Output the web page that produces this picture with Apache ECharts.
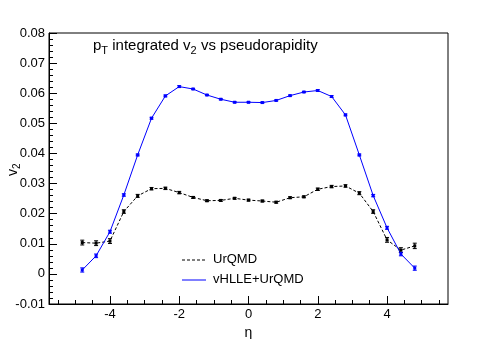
<!DOCTYPE html>
<html>
<head>
<meta charset="utf-8">
<script src="https://cdn.jsdelivr.net/npm/echarts@6/dist/echarts.min.js"></script>
<style>
html,body{margin:0;padding:0;background:#fff;}
#chart{width:498px;height:339px;}
</style>
</head>
<body>
<div id="chart"></div>
<script>
// eta bins
var eta = [-4.8,-4.4,-4.0,-3.6,-3.2,-2.8,-2.4,-2.0,-1.6,-1.2,-0.8,-0.4,0,
           0.4,0.8,1.2,1.6,2.0,2.4,2.8,3.2,3.6,4.0,4.4,4.8];
// UrQMD (black dashed)
var urqmd = [0.0104,0.0102,0.0109,0.0207,0.0259,0.0283,0.0284,0.0270,0.0254,0.0243,0.0244,0.0251,0.0245,
             0.0242,0.0238,0.0253,0.0256,0.0281,0.0290,0.0292,0.0268,0.0207,0.0113,0.0079,0.0093];
var urqmdErr = [0.0008,0.0008,0.0008,0.0006,0.0005,0.0004,0.0004,0.0004,0.0003,0.0003,0.0003,0.0003,0.0003,
                0.0003,0.0003,0.0003,0.0003,0.0004,0.0004,0.0004,0.0005,0.0006,0.0008,0.0008,0.0009];
// vHLLE+UrQMD (blue)
var hydro = [0.0013,0.0060,0.0140,0.0262,0.0395,0.0517,0.0591,0.0622,0.0614,0.0594,0.0580,0.0570,0.0570,
             0.0569,0.0576,0.0592,0.0604,0.0609,0.0589,0.0528,0.0395,0.0260,0.0153,0.0066,0.0019];
var hydroErr = [0.0007,0.0006,0.0005,0.0004,0.0003,0.0003,0.0003,0.0003,0.0002,0.0002,0.0002,0.0002,0.0002,
                0.0002,0.0002,0.0002,0.0002,0.0003,0.0003,0.0003,0.0003,0.0004,0.0005,0.0006,0.0007];
var xTicks = [-4,-2,0,2,4];
var xMinor = [-5.5,-5,-4.5,-3.5,-3,-2.5,-1.5,-1,-0.5,0.5,1,1.5,2.5,3,3.5,4.5,5,5.5];

var FONT = "Liberation Sans";

function pts(v){ return eta.map(function(x,i){ return [x, v[i]]; }); }
function errs(v,e){ return eta.map(function(x,i){ return [x, v[i]-e[i], v[i]+e[i]]; }); }

function errBar(color){
  return function(params, api){
    var a = api.coord([api.value(0), api.value(1)]);
    var b = api.coord([api.value(0), api.value(2)]);
    var st = {stroke: color, lineWidth: 1};
    return {type:'group', children:[
      {type:'line', shape:{x1:a[0],y1:a[1],x2:b[0],y2:b[1]}, style:st},
      {type:'line', shape:{x1:a[0]-2,y1:a[1],x2:a[0]+2,y2:a[1]}, style:st},
      {type:'line', shape:{x1:b[0]-2,y1:b[1],x2:b[0]+2,y2:b[1]}, style:st}
    ]};
  };
}

var chart = echarts.init(document.getElementById('chart'), null, {renderer:'canvas'});
chart.setOption({
  animation: false,
  backgroundColor: '#fff',
  textStyle: {fontFamily: FONT},
  grid: {left:49, right:50, top:33, bottom:35, outerBoundsMode:'none', containLabel:false,
         show:true, borderColor:'#000', borderWidth:1, backgroundColor:'transparent'},
  xAxis: [{
    type:'value', min:-5.76, max:5.76,
    name:'η', nameLocation:'middle', nameGap:19,
    nameTextStyle:{fontFamily:FONT, fontSize:14, color:'#000'},
    axisLine:{onZero:false, lineStyle:{color:'#000'}},
    axisTick:{inside:true, length:8, customValues:xTicks, lineStyle:{color:'#000'}},
    axisLabel:{customValues:xTicks, fontFamily:FONT, fontSize:13, color:'#000', margin:4},
    splitLine:{show:false}
  },{
    type:'value', min:-5.76, max:5.76, gridIndex:0, position:'bottom',
    axisLine:{show:false, onZero:false},
    axisTick:{inside:true, length:4, customValues:xMinor, lineStyle:{color:'#000'}},
    axisLabel:{show:false},
    splitLine:{show:false}
  }],
  yAxis: {
    type:'value', min:-0.01, max:0.08, interval:0.01,
    axisLine:{onZero:false, lineStyle:{color:'#000'}},
    axisTick:{inside:true, length:8, lineStyle:{color:'#000'}},
    minorTick:{show:true, splitNumber:5, length:4, lineStyle:{color:'#000'}},
    axisLabel:{fontFamily:FONT, fontSize:13, color:'#000', margin:4,
      formatter:function(v){ var r = Math.round(v*100)/100; return r===0 ? '0' : r.toFixed(2); }},
    splitLine:{show:false}
  },
  graphic: [
    {type:'text', left:93, top:38, style:{
      text:'{n|p}{s|T}{n| integrated v}{s|2}{n| vs pseudorapidity}',
      rich:{n:{fontFamily:FONT, fontSize:15, fill:'#000'}, s:{fontFamily:FONT, fontSize:11, fill:'#000', padding:[10,0,0,0]}}
    }},
    {type:'text', x:4, y:176, rotation:Math.PI/2, style:{
      text:'{v|v}{s|2}',
      rich:{v:{fontFamily:FONT, fontSize:14, fill:'#000'}, s:{fontFamily:FONT, fontSize:10, fill:'#000', padding:[8,0,0,0]}}
    }},
    {type:'line', shape:{x1:182,y1:260,x2:206,y2:260}, style:{stroke:'#000', lineWidth:1, lineDash:[3,2]}},
    {type:'text', left:213, top:253, style:{text:'UrQMD', fontFamily:FONT, fontSize:13, fill:'#000'}},
    {type:'line', shape:{x1:182,y1:280,x2:206,y2:280}, style:{stroke:'#0000ff', lineWidth:1}},
    {type:'text', left:213, top:273, style:{text:'vHLLE+UrQMD', fontFamily:FONT, fontSize:13, fill:'#000'}}
  ],
  series: [
    {type:'line', name:'UrQMD', data:pts(urqmd), symbol:'rect', symbolSize:3,
     lineStyle:{color:'#000', width:1, type:[3,2]}, itemStyle:{color:'#000'}},
    {type:'custom', data:errs(urqmd, urqmdErr), renderItem:errBar('#000'), encode:{x:0, y:[1,2]}},
    {type:'line', name:'vHLLE+UrQMD', data:pts(hydro), symbol:'rect', symbolSize:3,
     lineStyle:{color:'#0000ff', width:1}, itemStyle:{color:'#0000ff'}},
    {type:'custom', data:errs(hydro, hydroErr), renderItem:errBar('#0000ff'), encode:{x:0, y:[1,2]}}
  ]
});
</script>
</body>
</html>
